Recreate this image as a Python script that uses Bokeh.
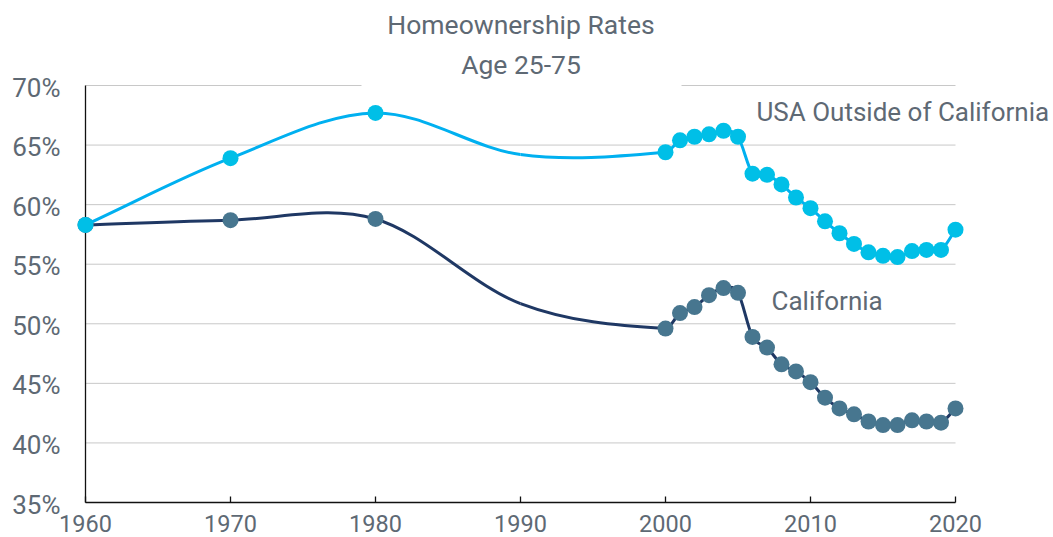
import numpy as np
from bokeh.plotting import figure
from bokeh.models import Range1d
from bokeh.core.properties import value
from bokeh.embed import file_html
from bokeh.resources import INLINE

# ---------------- data ----------------
# 1990 is on the curve but is drawn without a marker in the original chart
years = [1960, 1970, 1980, 1990, 2000, 2001, 2002, 2003, 2004, 2005, 2006, 2007, 2008,
         2009, 2010, 2011, 2012, 2013, 2014, 2015, 2016, 2017, 2018, 2019, 2020]
usa_outside_ca = [58.3, 63.9, 67.7, 64.2, 64.4, 65.4, 65.7, 65.9, 66.2, 65.7, 62.6, 62.5, 61.7,
                  60.6, 59.7, 58.6, 57.6, 56.7, 56.0, 55.7, 55.6, 56.1, 56.2, 56.2, 57.9]
california = [58.3, 58.7, 58.8, 51.7, 49.6, 50.9, 51.4, 52.4, 53.0, 52.6, 48.9, 48.0, 46.6,
              46.0, 45.1, 43.8, 42.9, 42.4, 41.8, 41.5, 41.5, 41.9, 41.8, 41.7, 42.9]
years_without_marker = [1990]
y_ticks = [35, 40, 45, 50, 55, 60, 65, 70]
y_tick_labels = ["35%", "40%", "45%", "50%", "55%", "60%", "65%", "70%"]
x_ticks = [1960, 1970, 1980, 1990, 2000, 2010, 2020]
x_tick_labels = ["1960", "1970", "1980", "1990", "2000", "2010", "2020"]
title_lines = ["Homeownership Rates", "Age 25-75"]
series_names = ["USA Outside of California", "California"]

# ---------------- layout (pixels) ----------------
W, H = 1053, 537
X1960, X2020 = 85, 955
Y70, Y35 = 85, 502
PX_PER_YEAR = (X2020 - X1960) / 60.0
PX_PER_PT = (Y35 - Y70) / 35.0

def dx(px):
    return 1960 + (px - X1960) / PX_PER_YEAR

def dy(py):
    return 70 - (py - Y70) / PX_PER_PT

FONT = "Roboto"
TXT = "#5e6974"

p = figure(width=W, height=H, output_backend="svg", toolbar_location=None,
           x_range=Range1d(dx(0), dx(W)), y_range=Range1d(dy(H), dy(0)),
           x_axis_location=None, y_axis_location=None,
           min_border_left=0, min_border_right=0,
           min_border_top=0, min_border_bottom=0)
p.outline_line_color = None
p.background_fill_color = "white"
p.xgrid.visible = False
p.ygrid.visible = False

# gridlines
gy = y_ticks[1:]
p.segment(x0=[x_ticks[0]] * len(gy), x1=[x_ticks[-1]] * len(gy), y0=gy, y1=gy,
          line_color="#c8c8c8", line_width=1)

# white box behind the title
p.quad(left=[dx(361)], right=[dx(681)], bottom=[dy(88)], top=[dy(0)],
       fill_color="white", line_color=None)

# axis lines, ticks and tick labels
AXC = "#111111"
p.segment(x0=[x_ticks[0]], x1=[x_ticks[0]], y0=[y_ticks[0]], y1=[y_ticks[-1]],
          line_color=AXC, line_width=1.3)
p.segment(x0=[x_ticks[0]], x1=[x_ticks[-1]], y0=[y_ticks[0]], y1=[y_ticks[0]],
          line_color=AXC, line_width=1.3)
p.segment(x0=x_ticks, x1=x_ticks, y0=[y_ticks[0]] * len(x_ticks),
          y1=[y_ticks[0] + 6 / PX_PER_PT] * len(x_ticks),
          line_color=AXC, line_width=1.3)
p.text(x=x_ticks, y=[dy(522.5)] * len(x_ticks), text=x_tick_labels,
       text_align="center", text_baseline="middle",
       text_font=value(FONT), text_font_size="23.5px", text_color=TXT)
p.text(x=[dx(60)] * len(y_ticks), y=y_ticks, y_offset=2, text=y_tick_labels,
       text_align="right", text_baseline="middle",
       text_font=value(FONT), text_font_size="26px", text_color=TXT)


def smooth_line(x, y, color, width):
    # cubic Hermite segments with centred-difference tangents, drawn as Bezier glyphs
    x = np.asarray(x, float)
    y = np.asarray(y, float)
    m = np.zeros(len(x))
    m[1:-1] = (y[2:] - y[:-2]) / (x[2:] - x[:-2])
    m[0] = (y[1] - y[0]) / (x[1] - x[0])
    m[-1] = (y[-1] - y[-2]) / (x[-1] - x[-2])
    h = np.diff(x)
    p.bezier(x0=x[:-1], y0=y[:-1], x1=x[1:], y1=y[1:],
             cx0=x[:-1] + h / 3, cy0=y[:-1] + m[:-1] * h / 3,
             cx1=x[1:] - h / 3, cy1=y[1:] - m[1:] * h / 3,
             line_color=color, line_width=width)


def markers(x, y, color):
    keep = [i for i, yr in enumerate(x) if yr not in years_without_marker]
    p.scatter([x[i] for i in keep], [y[i] for i in keep], size=16,
              fill_color=color, line_color=None)


smooth_line(years, california, "#1f3864", 3)
markers(years, california, "#47768f")
smooth_line(years, usa_outside_ca, "#00b0f0", 3)
markers(years, usa_outside_ca, "#00bfe7")

# titles
p.text(x=[dx(520.5)] * 2, y=[dy(24.2), dy(63.8)], text=title_lines,
       text_align="center", text_baseline="middle",
       text_font=value(FONT), text_font_size="26.5px", text_color=TXT)

# series labels
p.text(x=[dx(756), dx(771)], y=[dy(111.3), dy(300)], text=series_names,
       text_align="left", text_baseline="middle",
       text_font=value(FONT), text_font_size="26px", text_color=TXT)

open("out.html", "w").write(file_html(p, INLINE))
